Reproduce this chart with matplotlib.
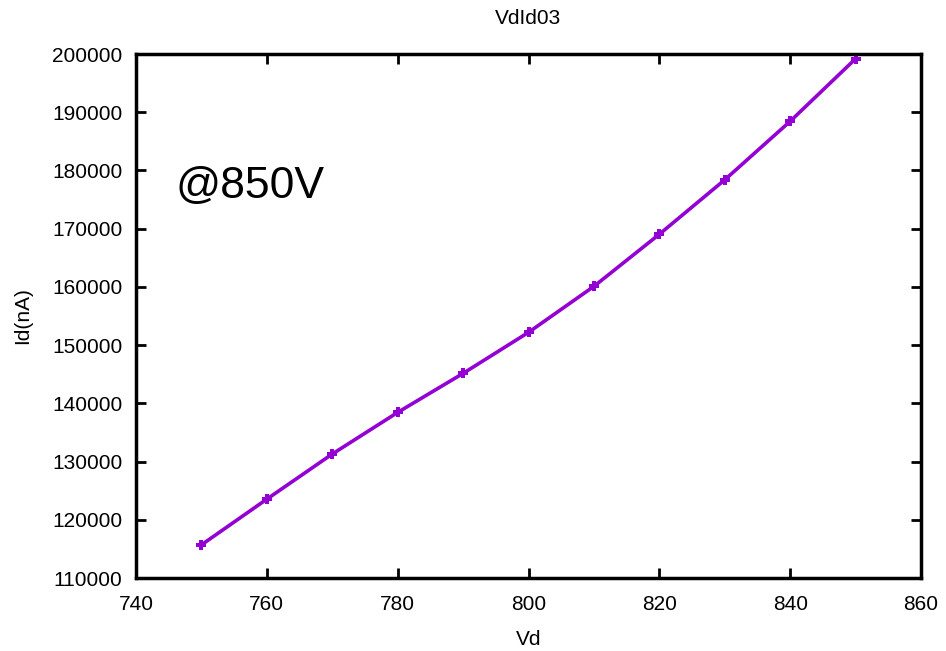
import matplotlib
matplotlib.use("Agg")
import matplotlib.pyplot as plt

plt.rcParams['font.family'] = ['Liberation Sans', 'DejaVu Sans']

# data
vd = [750, 760, 770, 780, 790, 800, 810, 820, 830, 840, 850]
id_na = [115700, 123550, 131300, 138450, 145150, 152200, 160100, 169050, 178400, 188450, 199200]
xticks = [740, 760, 780, 800, 820, 840, 860]
yticks = list(range(110000, 200001, 10000))

fig = plt.figure(figsize=(9.46, 6.51), dpi=100)
ax = fig.add_axes([0.1438, 0.1121, 0.8298, 0.8049])

ax.plot(vd, id_na, color='#9400D3', lw=2.6, marker='P', ms=7, mew=0)

ax.set_xlim(740, 860)
ax.set_ylim(110000, 200000)
ax.set_xticks(xticks)
ax.set_yticks(yticks)
ax.tick_params(direction='in', length=7, width=2, labelsize=15,
               top=True, right=True)
ax.tick_params(axis='y', pad=10)
ax.tick_params(axis='x', pad=12)
for s in ax.spines.values():
    s.set_linewidth(2.5)

ax.set_xlabel('Vd', fontsize=15, labelpad=12)
ax.set_ylabel('Id(nA)', fontsize=15, labelpad=14)
fig.text(0.5578, 0.972, 'VdId03', ha='center', va='center', fontsize=15)
ax.text(746, 177300, '@850V', fontsize=32, va='center', ha='left')

fig.savefig('out.png', dpi=100)
